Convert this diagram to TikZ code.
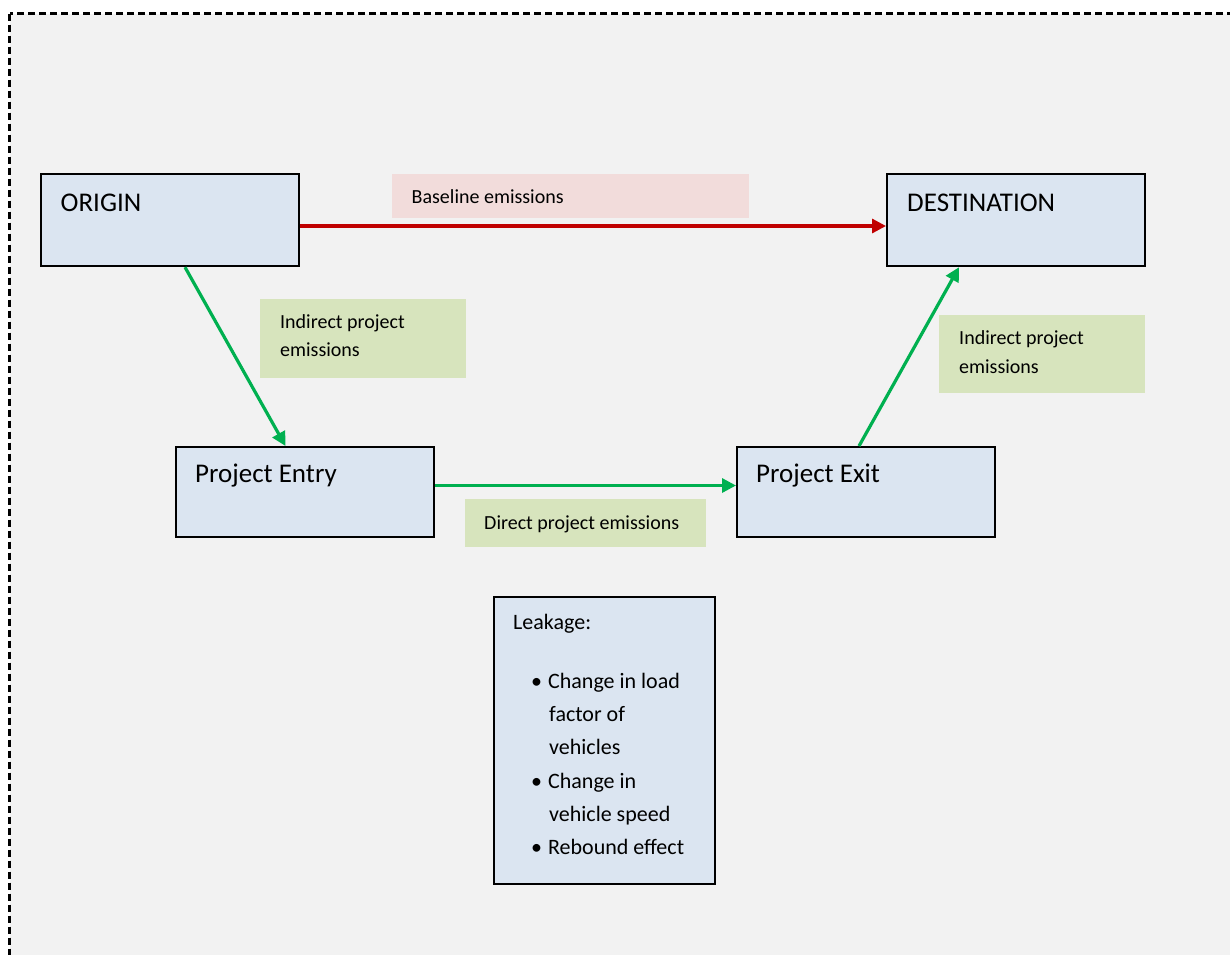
\documentclass[tikz,border=0pt]{standalone}
\usepackage{fontspec}
\setmainfont{Carlito}
\usetikzlibrary{arrows.meta}
\definecolor{bgray}{HTML}{F2F2F2}
\definecolor{boxblue}{HTML}{DBE5F1}
\definecolor{lblpink}{HTML}{F2DCDB}
\definecolor{lblgreen}{HTML}{D7E4BD}
\definecolor{arrred}{HTML}{C00000}
\definecolor{arrgreen}{HTML}{00B050}
\begin{document}
\begin{tikzpicture}[x=1pt,y=-1pt,
  box/.style={draw=black, line width=2.2pt, fill=boxblue, inner sep=0pt, anchor=north west},
  lbl/.style={inner sep=0pt, anchor=north west},
  txt/.style={inner sep=0pt, anchor=base west, text=black},
  big/.style={font=\fontsize{27}{32}\selectfont},
  small/.style={font=\fontsize{20}{24}\selectfont},
  mid/.style={font=\fontsize{22}{26}\selectfont},
  redarr/.style={draw=arrred, line width=3.2pt, -{Triangle[length=14pt,width=14pt]}},
  grnarr/.style={draw=arrgreen, line width=3.2pt, -{Triangle[length=14pt,width=14pt]}}]
\useasboundingbox (0,0) rectangle (1230,954);
\clip (0,0) rectangle (1230,954);
\fill[white] (0,0) rectangle (1230,954);
\draw[fill=bgray, line width=2.2pt, dash pattern=on 7pt off 4pt] (9.5,13.5) rectangle (1250,980);

% boxes
\node[box, minimum width=258pt, minimum height=92pt] (origin) at (40,173) {};
\node[box, minimum width=258pt, minimum height=92pt] (dest) at (886,173) {};
\node[box, minimum width=258pt, minimum height=90pt] (entry) at (175,446) {};
\node[box, minimum width=258pt, minimum height=90pt] (exit) at (736,446) {};
\node[box, minimum width=221pt, minimum height=287pt] (leak) at (493,596) {};

% label fills
\node[lbl, fill=lblpink, minimum width=357pt, minimum height=44pt] (baselbl) at (392,174) {};
\node[lbl, fill=lblgreen, minimum width=206pt, minimum height=79pt] (indl) at (260,299) {};
\node[lbl, fill=lblgreen, minimum width=206pt, minimum height=78pt] (indr) at (939,315) {};
\node[lbl, fill=lblgreen, minimum width=241pt, minimum height=48pt] (direct) at (465,499) {};

% box texts
\node[txt, big] (torigin) at (60.5,211.5) {ORIGIN};
\node[txt, big] (tdest) at (907,211.5) {DESTINATION};
\node[txt, big] (tentry) at (195,482) {Project Entry};
\node[txt, big] (texit) at (756,482) {Project Exit};

% label texts
\node[txt, small] (tbase) at (411.5,203) {Baseline emissions};
\node[txt, small] (tindl1) at (280,328) {Indirect project};
\node[txt, small] (tindl2) at (280,356.5) {emissions};
\node[txt, small] (tindr1) at (959,344) {Indirect project};
\node[txt, small] (tindr2) at (959,373) {emissions};
\node[txt, small] (tdirect) at (484,529) {Direct project emissions};

% leakage list
\node[txt, mid] (lk0) at (513,629) {Leakage:};
\node[txt, mid] (lk1) at (531,688.5) {\textbullet\hspace{6pt}Change in load};
\node[txt, mid] (lk2) at (549,721.5) {factor of};
\node[txt, mid] (lk3) at (549,754.5) {vehicles};
\node[txt, mid] (lk4) at (531,788) {\textbullet\hspace{6pt}Change in};
\node[txt, mid] (lk5) at (549,821.5) {vehicle speed};
\node[txt, mid] (lk6) at (531,854.5) {\textbullet\hspace{6pt}Rebound effect};

% connector helpers
\coordinate (ry) at (0,226);
\coordinate (gy) at (0,485.5);
\coordinate (ox) at (185,0);
\coordinate (ex) at (285.5,0);
\coordinate (xx) at (859,0);
\coordinate (dx) at (959,0);

% connectors
\draw[redarr] (origin.east |- ry) -- (dest.west |- ry);
\draw[grnarr] (origin.south -| ox) -- (entry.north -| ex);
\draw[grnarr] (entry.east |- gy) -- (exit.west |- gy);
\draw[grnarr] (exit.north -| xx) -- (dest.south -| dx);
\end{tikzpicture}
\end{document}
